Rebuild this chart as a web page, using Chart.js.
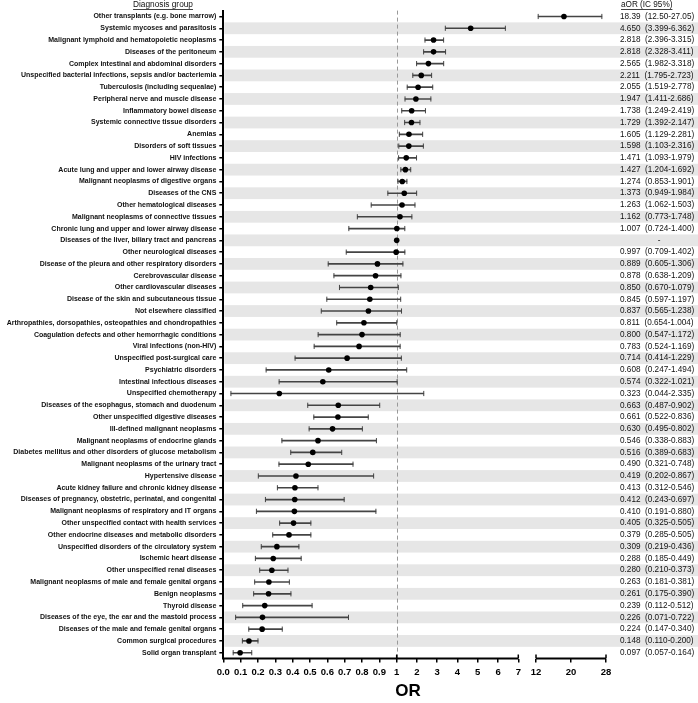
<!DOCTYPE html>
<html>
<head>
<meta charset="utf-8">
<script src="https://cdn.jsdelivr.net/npm/chart.js@4.4.1/dist/chart.umd.min.js"></script>
<style>
  html, body { margin: 0; padding: 0; background: #fff; }
  #wrap { width: 698px; height: 703px; position: relative; }
</style>
</head>
<body>
<div id="wrap"><canvas id="forest"></canvas></div>
<script>
const categories = [
  'Other transplants (e.g. bone marrow)',
  'Systemic mycoses and parasitosis',
  'Malignant lymphoid and hematopoietic neoplasms',
  'Diseases of the peritoneum',
  'Complex intestinal and abdominal disorders',
  'Unspecified bacterial infections, sepsis and/or bacteriemia',
  'Tuberculosis (including sequealae)',
  'Peripheral nerve and muscle disease',
  'Inflammatory bowel disease',
  'Systemic connective tissue disorders',
  'Anemias',
  'Disorders of soft tissues',
  'HIV infections',
  'Acute lung and upper and lower airway disease',
  'Malignant neoplasms of digestive organs',
  'Diseases of the CNS',
  'Other hematological diseases',
  'Malignant neoplasms of connective tissues',
  'Chronic lung and upper and lower airway disease',
  'Diseases of the liver, biliary tract and pancreas',
  'Other neurological diseases',
  'Disease of the pleura and other respiratory disorders',
  'Cerebrovascular disease',
  'Other cardiovascular diseases',
  'Disease of the skin and subcutaneous tissue',
  'Not elsewhere classified',
  'Arthropathies, dorsopathies, osteopathies and chondropathies',
  'Coagulation defects and other hemorrhagic conditions',
  'Viral infections (non-HIV)',
  'Unspecified post-surgical care',
  'Psychiatric disorders',
  'Intestinal infectious diseases',
  'Unspecified chemotherapy',
  'Diseases of the esophagus, stomach and duodenum',
  'Other unspecified digestive diseases',
  'Ill-defined malignant neoplasms',
  'Malignant neoplasms of endocrine glands',
  'Diabetes mellitus and other disorders of glucose metabolism',
  'Malignant neoplasms of the urinary tract',
  'Hypertensive disease',
  'Acute kidney failure and chronic kidney disease',
  'Diseases of pregnancy, obstetric, perinatal, and congenital',
  'Malignant neoplasms of respiratory and IT organs',
  'Other unspecified contact with health services',
  'Other endocrine diseases and metabolic disorders',
  'Unspecified disorders of the circulatory system',
  'Ischemic heart disease',
  'Other unspecified renal diseases',
  'Malignant neoplasms of male and female genital organs',
  'Benign neoplasms',
  'Thyroid disease',
  'Diseases of the eye, the ear and the mastoid process',
  'Diseases of the male and female genital organs',
  'Common surgical procedures',
  'Solid organ transplant'
];

const orValues = [
  18.39, 4.650, 2.818, 2.818, 2.565, 2.211, 2.055, 1.947, 1.738, 1.729,
  1.605, 1.598, 1.471, 1.427, 1.274, 1.373, 1.263, 1.162, 1.007, 1.000,
  0.997, 0.889, 0.878, 0.850, 0.845, 0.837, 0.811, 0.800, 0.783, 0.714,
  0.608, 0.574, 0.323, 0.663, 0.661, 0.630, 0.546, 0.516, 0.490, 0.419,
  0.413, 0.412, 0.410, 0.405, 0.379, 0.309, 0.288, 0.280, 0.263, 0.261,
  0.239, 0.226, 0.224, 0.148, 0.097
];

// whiskers as drawn in the figure (rows 15 and 17 look swapped vs. the text column)
const ciLow = [
  12.50, 3.399, 2.396, 2.328, 1.982, 1.795, 1.519, 1.411, 1.249, 1.392,
  1.129, 1.103, 1.093, 1.204, 1.062, 0.949, 0.853, 0.773, 0.724, null,
  0.709, 0.605, 0.638, 0.670, 0.597, 0.565, 0.654, 0.547, 0.524, 0.414,
  0.247, 0.322, 0.044, 0.487, 0.522, 0.495, 0.338, 0.389, 0.321, 0.202,
  0.312, 0.243, 0.191, 0.325, 0.285, 0.219, 0.185, 0.210, 0.181, 0.175,
  0.112, 0.071, 0.147, 0.110, 0.057
];
const ciHigh = [
  27.05, 6.362, 3.315, 3.411, 3.318, 2.723, 2.778, 2.686, 2.419, 2.147,
  2.281, 2.316, 1.979, 1.692, 1.503, 1.984, 1.901, 1.748, 1.400, null,
  1.402, 1.306, 1.209, 1.079, 1.197, 1.238, 1.004, 1.172, 1.169, 1.229,
  1.494, 1.021, 2.335, 0.902, 0.836, 0.802, 0.883, 0.683, 0.748, 0.867,
  0.546, 0.697, 0.880, 0.505, 0.505, 0.436, 0.449, 0.373, 0.381, 0.390,
  0.512, 0.722, 0.340, 0.200, 0.164
];

const aorText = [
  '18.39  (12.50-27.05)', '4.650  (3.399-6.362)', '2.818  (2.396-3.315)', '2.818  (2.328-3.411)',
  '2.565  (1.982-3.318)', '2.211  (1.795-2.723)', '2.055  (1.519-2.778)', '1.947  (1.411-2.686)',
  '1.738  (1.249-2.419)', '1.729  (1.392-2.147)', '1.605  (1.129-2.281)', '1.598  (1.103-2.316)',
  '1.471  (1.093-1.979)', '1.427  (1.204-1.692)', '1.274  (0.853-1.901)', '1.373  (0.949-1.984)',
  '1.263  (1.062-1.503)', '1.162  (0.773-1.748)', '1.007  (0.724-1.400)', '-',
  '0.997  (0.709-1.402)', '0.889  (0.605-1.306)', '0.878  (0.638-1.209)', '0.850  (0.670-1.079)',
  '0.845  (0.597-1.197)', '0.837  (0.565-1.238)', '0.811  (0.654-1.004)', '0.800  (0.547-1.172)',
  '0.783  (0.524-1.169)', '0.714  (0.414-1.229)', '0.608  (0.247-1.494)', '0.574  (0.322-1.021)',
  '0.323  (0.044-2.335)', '0.663  (0.487-0.902)', '0.661  (0.522-0.836)', '0.630  (0.495-0.802)',
  '0.546  (0.338-0.883)', '0.516  (0.389-0.683)', '0.490  (0.321-0.748)', '0.419  (0.202-0.867)',
  '0.413  (0.312-0.546)', '0.412  (0.243-0.697)', '0.410  (0.191-0.880)', '0.405  (0.325-0.505)',
  '0.379  (0.285-0.505)', '0.309  (0.219-0.436)', '0.288  (0.185-0.449)', '0.280  (0.210-0.373)',
  '0.263  (0.181-0.381)', '0.261  (0.175-0.390)', '0.239  (0.112-0.512)', '0.226  (0.071-0.722)',
  '0.224  (0.147-0.340)', '0.148  (0.110-0.200)', '0.097  (0.057-0.164)'
];

const tickValues = [0, 0.1, 0.2, 0.3, 0.4, 0.5, 0.6, 0.7, 0.8, 0.9, 1, 2, 3, 4, 5, 6, 7, 12, 20, 28];
const tickLabels = ['0.0', '0.1', '0.2', '0.3', '0.4', '0.5', '0.6', '0.7', '0.8', '0.9',
  '1', '2', '3', '4', '5', '6', '7', '12', '20', '28'];

// broken axis: 0-1 and 1-7 stretched differently, gap, then 12-28
const SEG_A = 173.4, SEG_B = 121.6, GAP = 17.7, SEG_C = 70;
function pos(v) {
  if (v <= 1) return v * SEG_A;
  if (v <= 7) return SEG_A + (v - 1) / 6 * SEG_B;
  return SEG_A + SEG_B + GAP + (v - 12) / 16 * SEG_C;
}
const X_MAX = pos(28);

const FONT = "'Liberation Sans', Arial, sans-serif";
Chart.defaults.font.family = FONT;

const ciBars = categories.map((c, i) => ciLow[i] == null ? null : [pos(ciLow[i]), pos(ciHigh[i])]);
const capPoints = [];
categories.forEach((c, i) => {
  if (ciLow[i] == null) return;
  capPoints.push({ x: pos(ciLow[i]), y: c });
  capPoints.push({ x: pos(ciHigh[i]), y: c });
});
const orPoints = categories.map((c, i) => ({ x: pos(orValues[i]), y: c }));

function rowStep(yScale) {
  return yScale.getPixelForValue(1) - yScale.getPixelForValue(0);
}

const bandsPlugin = {
  id: 'bands',
  beforeDraw(chart) {
    const { ctx, chartArea, scales: { y } } = chart;
    const step = rowStep(y);
    ctx.save();
    ctx.fillStyle = '#e6e6e6';
    for (let i = 1; i < categories.length; i += 2) {
      const cy = y.getPixelForValue(i);
      ctx.fillRect(chartArea.left + 1, cy - step / 2, chart.width - chartArea.left, step);
    }
    ctx.restore();
  }
};

const refLinePlugin = {
  id: 'refLine',
  beforeDatasetsDraw(chart) {
    const { ctx, chartArea, scales: { x } } = chart;
    const px = Math.round(x.getPixelForValue(pos(1))) + 0.5;
    ctx.save();
    ctx.strokeStyle = '#999';
    ctx.lineWidth = 1;
    ctx.setLineDash([4, 3]);
    ctx.beginPath();
    ctx.moveTo(px, chartArea.top);
    ctx.lineTo(px, chartArea.bottom);
    ctx.stroke();
    ctx.restore();
  }
};

const brokenAxisPlugin = {
  id: 'brokenAxis',
  afterDraw(chart) {
    const { ctx, chartArea, scales: { x } } = chart;
    const yb = chartArea.bottom;
    const p = v => x.getPixelForValue(pos(v));
    ctx.save();
    ctx.strokeStyle = '#000';
    ctx.lineWidth = 2;
    ctx.beginPath();
    ctx.moveTo(chartArea.left, yb);
    ctx.lineTo(p(7), yb);
    ctx.moveTo(p(12), yb);
    ctx.lineTo(p(28), yb);
    ctx.stroke();
    // upward ticks at 1 and at segment ends
    ctx.lineWidth = 1.5;
    ctx.beginPath();
    [1, 7, 12, 28].forEach(v => {
      ctx.moveTo(p(v), yb);
      ctx.lineTo(p(v), yb - 4);
    });
    ctx.stroke();
    ctx.restore();
  }
};

const textPlugin = {
  id: 'texts',
  afterDraw(chart) {
    const { ctx, scales: { y } } = chart;
    ctx.save();
    ctx.fillStyle = '#111';
    ctx.strokeStyle = '#111';
    ctx.lineWidth = 0.8;
    ctx.textBaseline = 'middle';

    // headers
    ctx.font = `8.3px ${FONT}`;
    ctx.textAlign = 'center';
    let w = ctx.measureText('Diagnosis group').width;
    ctx.fillText('Diagnosis group', 163, 5);
    ctx.beginPath();
    ctx.moveTo(163 - w / 2, 9.5); ctx.lineTo(163 + w / 2, 9.5);
    ctx.stroke();

    ctx.font = `8.2px ${FONT}`;
    ctx.textAlign = 'left';
    w = ctx.measureText('aOR (IC 95%)').width;
    ctx.fillText('aOR (IC 95%)', 621, 5);
    ctx.beginPath();
    ctx.moveTo(621, 9.5); ctx.lineTo(621 + w, 9.5);
    ctx.stroke();

    // aOR column
    aorText.forEach((t, i) => {
      const cy = y.getPixelForValue(i);
      if (t === '-') {
        ctx.textAlign = 'center';
        ctx.fillText(t, 659, cy);
        ctx.textAlign = 'left';
      } else {
        ctx.fillText(t, 620, cy);
      }
    });

    // axis title
    ctx.fillStyle = '#000';
    ctx.font = `bold 17px ${FONT}`;
    ctx.textAlign = 'center';
    ctx.fillText('OR', 408, 691);
    ctx.restore();
  }
};

const ctx = document.getElementById('forest').getContext('2d');
new Chart(ctx, {
  type: 'bar',
  data: {
    labels: categories,
    datasets: [
      {
        type: 'scatter',
        data: orPoints,
        pointStyle: 'circle',
        radius: 2.8,
        backgroundColor: '#000',
        borderColor: '#000',
        borderWidth: 0,
        order: 0
      },
      {
        type: 'scatter',
        data: capPoints,
        pointStyle: 'line',
        rotation: 90,
        radius: 2.6,
        borderColor: '#444',
        borderWidth: 1,
        order: 1
      },
      {
        type: 'bar',
        data: ciBars,
        backgroundColor: '#444',
        borderWidth: 0,
        barThickness: 1,
        order: 2
      }
    ]
  },
  options: {
    indexAxis: 'y',
    responsive: true,
    maintainAspectRatio: false,
    animation: false,
    events: [],
    layout: { padding: { top: 10.6, right: 92, bottom: 0, left: 0 } },
    plugins: {
      legend: { display: false },
      tooltip: { enabled: false }
    },
    scales: {
      x: {
        type: 'linear',
        min: 0,
        max: X_MAX,
        afterFit: s => { s.height = 44.4; },
        afterBuildTicks: s => { s.ticks = tickValues.map(v => ({ value: pos(v) })); },
        ticks: {
          autoSkip: false,
          maxRotation: 0,
          padding: 4,
          color: '#000',
          font: { size: 9.5, weight: 'bold' },
          callback: (v, i) => tickLabels[i]
        },
        grid: { drawOnChartArea: false, drawTicks: true, tickLength: 4, color: '#000', lineWidth: 1.5 },
        border: { display: false }
      },
      y: {
        type: 'category',
        labels: categories,
        offset: true,
        afterFit: s => { s.width = 223.3; },
        ticks: {
          autoSkip: false,
          padding: 3,
          color: '#111',
          font: { size: 7, weight: 'bold' }
        },
        grid: { drawOnChartArea: false, offset: false, tickLength: 4, color: '#000', lineWidth: 1.5 },
        border: { color: '#000', width: 2 }
      }
    }
  },
  plugins: [bandsPlugin, refLinePlugin, brokenAxisPlugin, textPlugin]
});
</script>
</body>
</html>
